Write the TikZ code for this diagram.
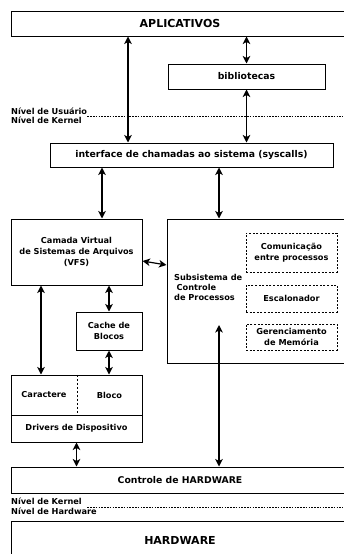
\documentclass[tikz,border=0pt]{standalone}
\usepackage{fontspec}
\setmainfont{DejaVu Sans}
\usetikzlibrary{arrows.meta}
\begin{document}
\begin{tikzpicture}[x=1pt,y=-1pt,
  box/.style={draw, line width=1pt, fill=white, inner sep=0pt, align=center, font=\bfseries\fontsize{8.2}{10.8}\selectfont},
  dbox/.style={box, dash pattern=on 2pt off 1.6pt},
  big/.style={font=\bfseries\fontsize{11}{13}\selectfont},
  mid/.style={font=\bfseries\fontsize{9.3}{11}\selectfont},
  lbl/.style={inner sep=0pt, align=left, font=\bfseries\fontsize{8.2}{10}\selectfont},
  plain/.style={inner sep=0pt, align=center, font=\bfseries\fontsize{8.2}{10}\selectfont},
  arr/.style={{Stealth[length=7.5pt,width=7.5pt,inset=2pt]}-{Stealth[length=7.5pt,width=7.5pt,inset=2pt]}, line width=1.2pt},
  dotl/.style={line width=1pt, dash pattern=on 1.6pt off 1.2pt}]
\useasboundingbox[fill=white] (0,0) rectangle (343,554);
% boxes
\node[box,big,minimum width=338,minimum height=25] (apl) at (180,23.5) {APLICATIVOS};
\node[box,mid,minimum width=157,minimum height=25] (bib) at (246.5,76.5) {bibliotecas};
\node[box,mid,minimum width=283,minimum height=24] (sys) at (191.5,155) {interface de chamadas ao sistema (syscalls)};
\node[box,minimum width=131,minimum height=66] (vfs) at (76.5,252) {Camada Virtual\\de Sistemas de Arquivos\\(VFS)};
\node[box,minimum width=182,minimum height=144] (sub) at (258,291) {};
\node[lbl,anchor=west] (subt) at (174,287) {Subsistema de\\\hspace{2.5pt}Controle\\de Processos};
\node[dbox,minimum width=91,minimum height=39] (ipc) at (291.5,252.5) {Comunicação\\entre processos};
\node[dbox,minimum width=91,minimum height=27] (esc) at (291.5,298.5) {Escalonador};
\node[dbox,minimum width=91,minimum height=26] (mem) at (291.5,337) {Gerenciamento\\de Memória};
\node[box,minimum width=66,minimum height=38] (cache) at (109,331) {Cache de\\Blocos};
\node[box,minimum width=131,minimum height=40] (drvtop) at (76.5,395) {};
\node[box,minimum width=131,minimum height=27] (drv) at (76.5,428.5) {Drivers de Dispositivo};
\node[plain,minimum width=66,minimum height=40] (car) at (44,395) {Caractere};
\node[plain,minimum width=65,minimum height=40] (blo) at (109.5,395) {Bloco};
\draw[line width=0.9pt, dash pattern=on 2pt off 2pt] (car.north east) -- (car.south east);
\node[box,mid,minimum width=338,minimum height=26] (ctl) at (180,480) {Controle de HARDWARE};
\node[box,big,minimum width=338,minimum height=39] (hw) at (180,540.5) {HARDWARE};
% level labels
\node[lbl,anchor=base west] (lu) at (11,114) {Nível de Usuário};
\node[lbl,anchor=base west] (lk) at (11,123) {Nível de Kernel};
\coordinate (re) at (343,116);
\draw[dotl] (lu.east |- re) -- (re);
\node[lbl,anchor=base west] (lk2) at (11,504) {Nível de Kernel};
\node[lbl,anchor=base west] (lh) at (11,514) {Nível de Hardware};
\coordinate (re2) at (343,507);
\draw[dotl] (lu.east |- re2) -- (re2);
% arrows
\coordinate (xa) at (128,0);
\coordinate (xb) at (102,0);
\coordinate (xc) at (219,0);
\coordinate (xd) at (41,0);
\coordinate (subin) at (219,325);
\draw[arr] (apl.south -| xa) -- (sys.north -| xa);
\draw[arr] (apl.south -| bib) -- (bib.north);
\draw[arr] (bib.south) -- (sys.north -| bib);
\draw[arr] (sys.south -| xb) -- (vfs.north -| xb);
\draw[arr] (sys.south -| xc) -- (sub.north -| xc);
\draw[arr] ([yshift=-9pt]vfs.east) -- ([yshift=26pt]sub.west);
\draw[arr] (subin) -- (ctl.north -| subin);
\draw[arr] (vfs.south -| xd) -- (drvtop.north -| xd);
\draw[arr] (vfs.south -| cache) -- (cache.north);
\draw[arr] (cache.south) -- (drvtop.north -| cache);
\draw[arr] (drv.south) -- (ctl.north -| drv);
\end{tikzpicture}
\end{document}
